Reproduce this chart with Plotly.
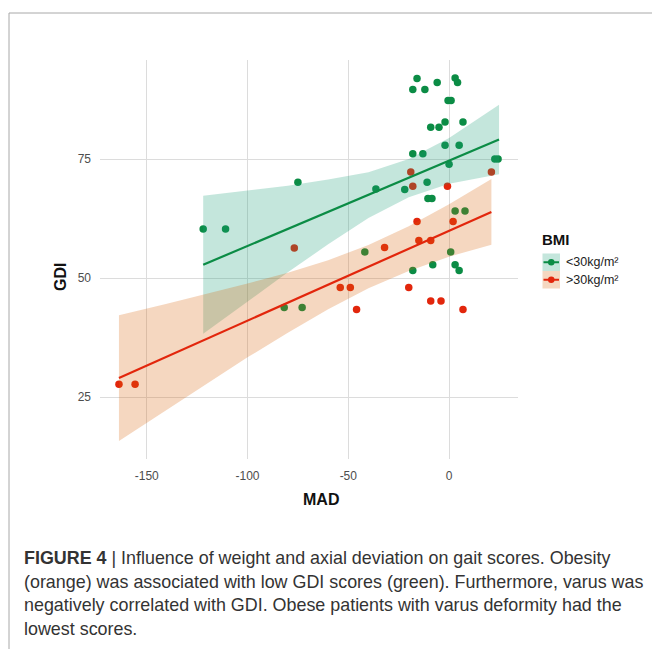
import plotly.graph_objects as go

# ---------------- data ----------------
low_bmi_mad = [-15.9, -18, -12, -5.9, 3, 4.2, -0.5, 1.0, -9.1, -5, -2, 6.9, -2, 5, -18, -13, 0,
               22.7, 24.3, -22, -10.9, -36.3, -75, -122, -110.9, -10.5, -8.5, 3, 7.9, 0.8, -41.8,
               -8.1, 3, -18, 5, -81.8, -72.9]
low_bmi_gdi = [91.9, 89.6, 89.6, 91.1, 92.0, 91.1, 87.3, 87.3, 81.7, 81.7, 82.8, 82.8, 77.9, 77.9,
               76.1, 76.1, 73.9, 75.0, 75.0, 68.6, 70.1, 68.7, 70.1, 60.3, 60.3, 66.7, 66.7, 64.1,
               64.1, 55.5, 55.5, 52.8, 52.8, 51.6, 51.6, 43.8, 43.8]

high_bmi_mad = [-19, 21, -18, -0.8, -15.9, 2, -76.8, -32, -15, -9.1, -54, -49, -20, -9.1, -4, 6.9,
                -45.9, -155.8, -163.8]
high_bmi_gdi = [72.3, 72.3, 69.3, 69.3, 61.9, 61.9, 56.3, 56.4, 57.9, 57.9, 48.0, 48.0, 48.0, 45.2,
                45.2, 43.4, 43.4, 27.7, 27.7]

# fitted regression lines
low_fit_mad = [-122, 24.8]
low_fit_gdi = [52.8, 79.1]
high_fit_mad = [-163.8, 21]
high_fit_gdi = [29.0, 63.9]

# confidence ribbons
low_rib_mad = [-122, -100, -80, -60, -40, -20, 0, 24.8]
low_rib_lo = [38.3, 45.1, 51.2, 57.1, 62.6, 67.0, 69.8, 71.8]
low_rib_hi = [67.3, 68.4, 69.4, 70.7, 72.2, 75.0, 79.4, 86.4]

high_rib_mad = [-163.8, -140, -120, -100, -80, -60, -40, -20, 0, 21]
high_rib_lo = [15.8, 22.4, 27.9, 33.35, 38.5, 43.45, 47.85, 51.5, 54.5, 57.0]
high_rib_hi = [42.2, 44.6, 46.7, 48.85, 51.1, 53.75, 56.95, 60.9, 65.5, 70.8]

x_ticks = [-150, -100, -50, 0]
x_tick_labels = ["-150", "-100", "-50", "0"]
y_ticks = [25, 50, 75]
y_tick_labels = ["25", "50", "75"]

legend_title = "BMI"
legend_labels = ["<30kg/m²", ">30kg/m²"]

caption_lines = [
    "<b>FIGURE 4</b> | Influence of weight and axial deviation on gait scores. Obesity",
    "(orange) was associated with low GDI scores (green). Furthermore, varus was",
    "negatively correlated with GDI. Obese patients with varus deformity had the",
    "lowest scores.",
]

# ---------------- styles ----------------
GREEN = "#0B8C45"
RED = "#E2260C"
GREEN_FILL = "rgba(27,158,119,0.26)"
ORANGE_FILL = "rgba(217,95,2,0.25)"
FONT = "Liberation Sans, Arial, sans-serif"

W, H = 652, 649
L, R, T, B = 100, 134, 60, 190
PW, PH = W - L - R, H - T - B


def px(x):
    return (x - L) / PW


def py(y):
    return (H - B - y) / PH


fig = go.Figure()

fig.add_trace(go.Scatter(x=low_bmi_mad, y=low_bmi_gdi, mode="markers",
                         marker=dict(color=GREEN, size=7.5, line=dict(width=0)),
                         showlegend=False, hoverinfo="skip"))
fig.add_trace(go.Scatter(x=high_bmi_mad, y=high_bmi_gdi, mode="markers",
                         marker=dict(color=RED, size=7.5, line=dict(width=0)),
                         showlegend=False, hoverinfo="skip"))

for rx, lo, hi, fc, lx, ly, lc in [
    (low_rib_mad, low_rib_lo, low_rib_hi, GREEN_FILL, low_fit_mad, low_fit_gdi, GREEN),
    (high_rib_mad, high_rib_lo, high_rib_hi, ORANGE_FILL, high_fit_mad, high_fit_gdi, RED),
]:
    fig.add_trace(go.Scatter(x=list(rx) + list(rx[::-1]), y=list(lo) + list(hi[::-1]),
                             fill="toself", fillcolor=fc, line=dict(width=0),
                             mode="lines", showlegend=False, hoverinfo="skip"))
    fig.add_trace(go.Scatter(x=lx, y=ly, mode="lines", line=dict(color=lc, width=2.2),
                             showlegend=False, hoverinfo="skip"))

shapes = []
annotations = []

# frame lines (top and left)
shapes.append(dict(type="line", xref="paper", yref="paper", x0=px(9), x1=px(652),
                   y0=py(13), y1=py(13), line=dict(color="#A8A8A8", width=1)))
shapes.append(dict(type="line", xref="paper", yref="paper", x0=px(9), x1=px(9),
                   y0=py(13), y1=py(649), line=dict(color="#A8A8A8", width=1)))

# manual legend
annotations.append(dict(text="<b>" + legend_title + "</b>", xref="paper", yref="paper",
                        x=px(540), y=py(239), xanchor="left", yanchor="middle",
                        showarrow=False, font=dict(family=FONT, size=15, color="#111111")))
for i, (lab, fc, lc) in enumerate(zip(legend_labels, [GREEN_FILL, ORANGE_FILL], [GREEN, RED])):
    top = 253.5 + i * 17.5
    cy = top + 8.75
    shapes.append(dict(type="rect", xref="paper", yref="paper", x0=px(542.5), x1=px(560),
                       y0=py(top), y1=py(top + 17.5), fillcolor=fc, line=dict(width=0)))
    shapes.append(dict(type="line", xref="paper", yref="paper", x0=px(543.5), x1=px(559),
                       y0=py(cy), y1=py(cy), line=dict(color=lc, width=2)))
    shapes.append(dict(type="circle", xref="paper", yref="paper", x0=px(548), x1=px(554.5),
                       y0=py(cy - 3.25), y1=py(cy + 3.25), fillcolor=lc, line=dict(width=0)))
    annotations.append(dict(text=lab, xref="paper", yref="paper", x=px(563.5), y=py(cy),
                            xanchor="left", yanchor="middle", showarrow=False,
                            font=dict(family=FONT, size=12.5, color="#222222")))

# axis titles
annotations.append(dict(text="<b>MAD</b>", xref="paper", yref="paper", x=px(321), y=py(499),
                        xanchor="center", yanchor="middle", showarrow=False,
                        font=dict(family=FONT, size=16, color="#111111")))
annotations.append(dict(text="<b>GDI</b>", xref="paper", yref="paper", x=px(60), y=py(277),
                        xanchor="center", yanchor="middle", showarrow=False, textangle=-90,
                        font=dict(family=FONT, size=16, color="#111111")))

# caption
for i, line in enumerate(caption_lines):
    annotations.append(dict(text=line, xref="paper", yref="paper", x=px(22), y=py(558 + i * 23.7),
                            xanchor="left", yanchor="middle", showarrow=False,
                            font=dict(family=FONT, size=17.9, color="#333333")))

fig.update_layout(
    width=W, height=H,
    margin=dict(l=L, r=R, t=T, b=B, pad=0),
    paper_bgcolor="white", plot_bgcolor="white",
    showlegend=False,
    shapes=shapes, annotations=annotations,
    font=dict(family=FONT),
    xaxis=dict(range=[-173.2, 34.2], tickvals=x_ticks, ticktext=x_tick_labels,
               showgrid=True, gridcolor="#DCDCDC", gridwidth=1.3, zeroline=False,
               showline=False, ticks="", ticklabelstandoff=8,
               tickfont=dict(family=FONT, size=12, color="#4D4D4D")),
    yaxis=dict(range=[12.0, 95.8], tickvals=y_ticks, ticktext=y_tick_labels,
               showgrid=True, gridcolor="#DCDCDC", gridwidth=1.3, zeroline=False,
               showline=False, ticks="", ticklabelstandoff=8,
               tickfont=dict(family=FONT, size=12, color="#4D4D4D")),
)

fig.write_html("out.html")
